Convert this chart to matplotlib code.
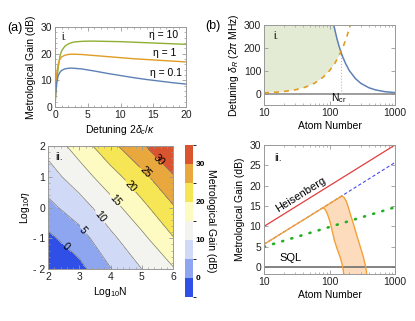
import numpy as np
import matplotlib
matplotlib.use('Agg')
import matplotlib.pyplot as plt
from matplotlib.colors import ListedColormap, BoundaryNorm
from matplotlib.cm import ScalarMappable
from matplotlib.ticker import AutoMinorLocator, MultipleLocator

plt.rcParams['font.family'] = ['Liberation Sans', 'DejaVu Sans']
plt.rcParams['mathtext.fontset'] = 'custom'
plt.rcParams['mathtext.rm'] = 'Liberation Sans'
plt.rcParams['mathtext.it'] = 'Liberation Sans:italic'

# ---- (a) i. gain vs detuning ----
detuning = [0, 0.1, 0.25, 0.5, 0.75, 1, 1.5, 2, 2.5, 3, 4, 5, 6, 8, 10, 12, 14, 16, 18, 20]
gain_eta10 = [0, 4, 9, 15, 19, 21, 22.8, 23.6, 24.1, 24.4, 24.6, 24.7, 24.7, 24.6, 24.5, 24.3, 24.1, 23.9, 23.7, 23.5]
gain_eta1 = [0, 7, 12.5, 16.3, 17.9, 18.8, 19.4, 19.7, 19.8, 19.8, 19.7, 19.5, 19.3, 18.9, 18.5, 18.1, 17.8, 17.5, 17.2, 16.9]
gain_eta01 = [0, 5, 9, 11.8, 13, 13.7, 14.3, 14.5, 14.6, 14.5, 14.3, 13.9, 13.5, 12.6, 11.8, 11.0, 10.3, 9.7, 9.1, 8.6]

# ---- (a) ii. contour map ----
log_n = [2, 3, 4, 5, 6]
log_eta = [-2, -1, 0, 1, 2]
gain_map = [
    [-7.0, -1.5, 4.8, 10.0, 14.6],
    [-1.1, 2.9, 8.9, 13.8, 19.7],
    [3.6, 7.8, 13.0, 18.6, 24.5],
    [7.9, 12.6, 17.9, 23.5, 29.6],
    [11.7, 17.2, 23.6, 29.3, 34.8],
]
levels = [-5, 0, 5, 10, 15, 20, 25, 30, 35]
level_colors = ['#2f4fe6', '#8ea5ef', '#d0d9f6', '#f3f4ef', '#fdfbc1', '#f6e555', '#e8a83e', '#d9542f']
label_pos = [(2.65, -1.16), (3.18, -0.68), (3.66, -0.31), (4.19, 0.27),
             (4.65, 0.70), (5.15, 1.18), (5.63, 1.61)]

# ---- (b) i. detuning vs atom number ----
n_orange = [10, 15, 20, 30, 40, 50, 60, 80, 100, 120, 140, 149, 160, 180, 200, 210]
delta_orange = [3.2, 5.8, 8.9, 16.4, 25.3, 35.4, 46.5, 71.6, 100, 131, 166, 183, 202, 241, 283, 304]
n_blue = [116, 120, 130, 140, 149, 160, 175, 200, 250, 300, 400, 500, 700, 1000]
delta_blue = [300, 282, 240, 207, 183, 159, 133, 101, 65, 45, 25.4, 16.3, 8.3, 4.1]
n_cr = 149
delta_cr = 183

# ---- (b) ii. gain vs atom number ----
n_line = [10, 100, 1000]
heisenberg = [10, 20, 30]
blue_dashed = [5.6, 15.6, 25.7]
green_dotted = [5.0, 9.85, 14.7]
n_rise = [10, 80, 153]
gain_rise = [5.6, 14.6, 17.45]
n_right = [153, 165, 180, 193, 210, 231, 252, 275, 300, 329, 360, 370]
gain_right = [17.45, 17.2, 16.2, 14.8, 12.8, 10.7, 8.6, 6.6, 4.6, 2.5, -0.3, -1.7]
n_left = [80, 85, 90, 95, 102, 110, 118.5, 130, 145, 155, 162, 165]
gain_left = [14.6, 14.2, 13.6, 12.6, 11.1, 8.9, 6.6, 4.6, 2.5, 0.8, -0.7, -1.7]

c_blue = '#5e81b5'
c_orange = '#e19c24'
c_green = '#8fb032'
frame_c = '#999999'
fs_tick = 7.5
fs_lab = 7.5


def style(ax):
    for s in ax.spines.values():
        s.set_color(frame_c)
        s.set_linewidth(0.7)
    ax.tick_params(which='both', direction='in', top=True, right=True, color=frame_c,
                   labelsize=fs_tick, labelcolor='#222222', pad=2)
    ax.tick_params(which='major', length=3, width=0.6)
    ax.tick_params(which='minor', length=1.5, width=0.5)


W, H = 415, 321
fig = plt.figure(figsize=(W / 100, H / 100), dpi=100)


def box(l, t, r, b):
    return [l / W, 1 - b / H, (r - l) / W, (b - t) / H]


# (a) i.
ax1 = fig.add_axes(box(55, 27, 186, 107))
ax1.plot(detuning, gain_eta10, color=c_green, lw=1)
ax1.plot(detuning, gain_eta1, color=c_orange, lw=1)
ax1.plot(detuning, gain_eta01, color=c_blue, lw=1)
ax1.set_xlim(0, 20)
ax1.set_ylim(0, 30)
ax1.xaxis.set_major_locator(MultipleLocator(5))
ax1.xaxis.set_minor_locator(MultipleLocator(1))
ax1.yaxis.set_major_locator(MultipleLocator(10))
ax1.yaxis.set_minor_locator(MultipleLocator(2))
style(ax1)
ax1.text(16.5, 26.9, 'η = 10', fontsize=7.5, ha='center', va='center')
ax1.text(16.8, 20.1, 'η = 1', fontsize=7.5, ha='center', va='center')
ax1.text(17.0, 12.6, 'η = 0.1', fontsize=7.5, ha='center', va='center')
ax1.text(0.05, 0.88, 'i.', transform=ax1.transAxes, fontsize=7.5, ha='left', va='center')
ax1.set_xlabel(r'Detuning 2$\delta_c/\kappa$', fontsize=fs_lab, labelpad=2)
ax1.set_ylabel('Metrological Gain (dB)', fontsize=fs_lab, labelpad=3)
fig.text(15 / W, 1 - 28 / H, '(a)', fontsize=9, ha='center', va='center')

# (b) i.
ax2 = fig.add_axes(box(264, 25, 395, 105))
ax2.set_xscale('log')
poly_x = [n for n in n_orange if n <= n_cr] + [n for n in n_blue if n <= n_cr][::-1] + [10]
poly_y = [d for n, d in zip(n_orange, delta_orange) if n <= n_cr] + \
         [d for n, d in zip(n_blue, delta_blue) if n <= n_cr][::-1] + [300]
ax2.fill(poly_x, poly_y, color='#e4ebd4', lw=0)
ax2.axhline(0, color='#8c8c8c', lw=1.2)
ax2.plot([n_cr, n_cr], [0, delta_cr], color='#bbbbbb', lw=0.8, ls=':')
ax2.plot(n_blue, delta_blue, color=c_blue, lw=1.1)
ax2.plot(n_orange, delta_orange, color=c_orange, lw=1.2, ls=(0, (3, 3)))
ax2.set_xlim(10, 1000)
ax2.set_ylim(-50, 300)
ax2.set_yticks([0, 100, 200, 300])
ax2.set_xticks([10, 100, 1000], labels=['10', '100', '1000'])
style(ax2)
ax2.tick_params(axis='y', which='minor', left=False, right=False)
ax2.text(140, -22, r'N$_{\rm cr}$', fontsize=7.5, ha='center', va='center')
ax2.text(0.07, 0.86, 'i.', transform=ax2.transAxes, fontsize=7.5, ha='left', va='center')
ax2.set_xlabel('Atom Number', fontsize=fs_lab, labelpad=2)
ax2.set_ylabel(r'Detuning $\delta_R$ (2$\pi$ MHz)', fontsize=fs_lab, labelpad=2)
fig.text(213 / W, 1 - 26 / H, '(b)', fontsize=9, ha='center', va='center')

# (a) ii.
ax3 = fig.add_axes(box(48, 146, 173, 269))
X, Y = np.meshgrid(log_n, log_eta)
Z = np.array(gain_map)
fill_levels = [-100] + levels[1:-1] + [100]
ax3.contourf(X, Y, Z, levels=fill_levels, colors=level_colors)
cs = ax3.contour(X, Y, Z, levels=levels[1:-1], colors='#7a7a7a', linewidths=0.5)
ax3.clabel(cs, fmt='%d', fontsize=7.5, colors='black', manual=label_pos,
           inline=True, inline_spacing=2)
ax3.set_xlim(2, 6)
ax3.set_ylim(-2, 2)
ax3.set_xticks([2, 3, 4, 5, 6])
ax3.set_yticks([-2, -1, 0, 1, 2], labels=['- 2', '- 1', '0', '1', '2'])
ax3.xaxis.set_minor_locator(AutoMinorLocator(5))
ax3.yaxis.set_minor_locator(AutoMinorLocator(5))
style(ax3)
ax3.text(0.06, 0.91, 'ii.', transform=ax3.transAxes, fontsize=7.5, ha='left', va='center')
ax3.set_xlabel(r'Log$_{10}$N', fontsize=fs_lab, labelpad=2)
ax3.set_ylabel(r'Log$_{10}\eta$', fontsize=fs_lab, labelpad=1)

cax = fig.add_axes(box(185, 145, 193, 297))
sm = ScalarMappable(norm=BoundaryNorm(levels, len(level_colors)), cmap=ListedColormap(level_colors))
cb = fig.colorbar(sm, cax=cax)
cb.set_ticks([0, 10, 20, 30], labels=['0', '10', '20', '30'])
cb.outline.set_visible(False)
cax.tick_params(length=0, labelsize=6, pad=2)
for t in cax.get_yticklabels():
    t.set_fontweight('bold')
cb.set_label('Metrological Gain (dB)', fontsize=fs_lab, rotation=270, labelpad=8)

# (b) ii.
ax4 = fig.add_axes(box(264, 145, 395, 274))
ax4.set_xscale('log')
fill_x = n_rise[1:] + n_right + n_left[::-1]
fill_y = gain_rise[1:] + gain_right + gain_left[::-1]
ax4.fill(fill_x, fill_y, color='#fddcbd', lw=0)
ax4.axhline(0, color='#6e6e6e', lw=1.2)
ax4.plot(n_line, heisenberg, color='#e23d3d', lw=0.9)
ax4.plot(n_line, blue_dashed, color='#4a4af0', lw=0.8, ls=(0, (3, 2)))
ax4.plot(n_line, green_dotted, color='#22b022', lw=1.9, ls=(0, (0.4, 3.2)), dash_capstyle='round')
ax4.plot(n_rise + n_right[1:], gain_rise + gain_right[1:], color='#f4a035', lw=1)
ax4.plot(n_left, gain_left, color='#f4a035', lw=1)
ax4.set_xlim(10, 1000)
ax4.set_ylim(-1.7, 30)
ax4.set_yticks([0, 5, 10, 15, 20, 25, 30])
ax4.set_xticks([10, 100, 1000], labels=['10', '100', '1000'])
style(ax4)
ax4.tick_params(axis='y', which='minor', left=False, right=False)
ax4.text(37, 17.7, 'Heisenberg', fontsize=8, rotation=32, ha='center', va='center',
         rotation_mode='anchor')
ax4.text(25, 2.3, 'SQL', fontsize=8, ha='center', va='center')
ax4.text(0.08, 0.9, 'ii.', transform=ax4.transAxes, fontsize=7.5, ha='left', va='center')
ax4.set_xlabel('Atom Number', fontsize=fs_lab, labelpad=2)
ax4.set_ylabel('Metrological Gain (dB)', fontsize=fs_lab, labelpad=3)

fig.savefig('out.png', dpi=100)
